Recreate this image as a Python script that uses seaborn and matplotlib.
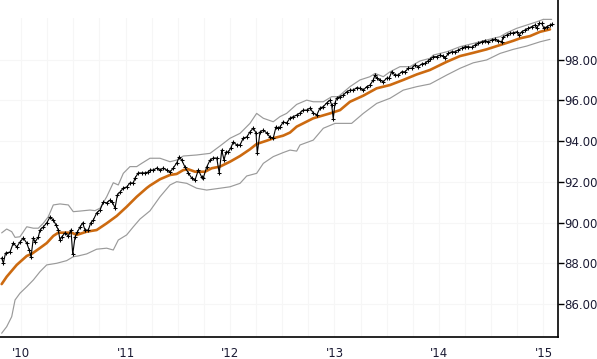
import numpy as np
import pandas as pd
import matplotlib
matplotlib.use("Agg")
import matplotlib.pyplot as plt
import seaborn as sns
from matplotlib.ticker import FixedLocator, FuncFormatter

# ---- data (decimal years, price) ----
price_t = [2009.815, 2009.831, 2009.852, 2009.895, 2009.926, 2009.959, 2009.990, 2010.022, 2010.055, 2010.079,
           2010.096, 2010.118, 2010.134, 2010.166, 2010.182, 2010.213, 2010.246, 2010.278, 2010.309, 2010.335,
           2010.357, 2010.373, 2010.389, 2010.421, 2010.453, 2010.478, 2010.495, 2010.517, 2010.539, 2010.565,
           2010.590, 2010.612, 2010.644, 2010.667, 2010.692, 2010.724, 2010.756, 2010.788, 2010.820, 2010.852,
           2010.874, 2010.900, 2010.922, 2010.947, 2010.979, 2011.011, 2011.043, 2011.075, 2011.091, 2011.122,
           2011.155, 2011.187, 2011.218, 2011.234, 2011.266, 2011.299, 2011.330, 2011.362, 2011.394, 2011.426,
           2011.457, 2011.490, 2011.515, 2011.538, 2011.569, 2011.601, 2011.633, 2011.665, 2011.697, 2011.729,
           2011.744, 2011.777, 2011.809, 2011.840, 2011.873, 2011.897, 2011.921, 2011.943, 2011.962, 2011.984,
           2012.007, 2012.032, 2012.064, 2012.096, 2012.127, 2012.160, 2012.191, 2012.223, 2012.249, 2012.261,
           2012.287, 2012.319, 2012.351, 2012.383, 2012.414, 2012.440, 2012.462, 2012.478, 2012.510, 2012.542,
           2012.574, 2012.606, 2012.638, 2012.670, 2012.701, 2012.734, 2012.766, 2012.797, 2012.830, 2012.861,
           2012.893, 2012.925, 2012.957, 2012.973, 2012.988, 2013.005, 2013.021, 2013.053, 2013.084, 2013.117,
           2013.148, 2013.180, 2013.212, 2013.244, 2013.276, 2013.308, 2013.340, 2013.371, 2013.388, 2013.404,
           2013.435, 2013.467, 2013.500, 2013.524, 2013.547, 2013.579, 2013.611, 2013.643, 2013.675, 2013.706,
           2013.739, 2013.770, 2013.802, 2013.834, 2013.866, 2013.898, 2013.914, 2013.946, 2013.978, 2014.010,
           2014.041, 2014.057, 2014.089, 2014.121, 2014.153, 2014.185, 2014.217, 2014.249, 2014.280, 2014.313,
           2014.344, 2014.376, 2014.409, 2014.440, 2014.472, 2014.504, 2014.536, 2014.567, 2014.600, 2014.615,
           2014.648, 2014.679, 2014.711, 2014.743, 2014.768, 2014.791, 2014.823, 2014.855, 2014.887, 2014.919,
           2014.935, 2014.960, 2014.983, 2015.005, 2015.031, 2015.062, 2015.084]
price_v = [88.27, 88.02, 88.51, 88.56, 89.00, 88.81, 89.05, 89.25, 89.00, 88.66,
           88.32, 89.25, 89.05, 89.30, 89.64, 89.79, 89.99, 90.28, 90.13, 89.89,
           89.64, 89.15, 89.30, 89.50, 89.35, 89.64, 88.45, 89.30, 89.54, 89.79,
           89.99, 89.64, 89.64, 89.99, 90.13, 90.48, 90.62, 91.01, 90.97, 91.11,
           91.01, 90.72, 91.36, 91.50, 91.70, 91.75, 91.95, 91.95, 92.19, 92.44,
           92.44, 92.44, 92.49, 92.58, 92.58, 92.68, 92.58, 92.68, 92.58, 92.49,
           92.68, 92.93, 93.22, 93.07, 92.73, 92.44, 92.19, 92.09, 92.58, 92.24,
           92.19, 92.73, 93.07, 93.17, 93.17, 92.44, 93.56, 93.07, 93.47, 93.47,
           93.66, 93.96, 93.81, 93.81, 94.15, 94.20, 94.45, 94.64, 94.40, 93.40,
           94.45, 94.54, 94.40, 94.20, 94.15, 94.69, 94.64, 94.69, 94.94, 94.89,
           95.13, 95.20, 95.28, 95.38, 95.52, 95.52, 95.62, 95.38, 95.28, 95.62,
           95.69, 95.87, 96.01, 95.77, 95.10, 95.87, 96.11, 96.18, 96.26, 96.42,
           96.50, 96.50, 96.62, 96.59, 96.50, 96.67, 96.75, 97.00, 97.24, 97.09,
           97.00, 96.91, 97.09, 97.09, 97.40, 97.24, 97.24, 97.40, 97.40, 97.57,
           97.57, 97.73, 97.65, 97.78, 97.81, 97.95, 98.01, 98.14, 98.14, 98.22,
           98.17, 98.06, 98.30, 98.38, 98.38, 98.47, 98.55, 98.63, 98.63, 98.60,
           98.71, 98.79, 98.87, 98.92, 98.87, 98.96, 98.99, 98.92, 98.87, 99.12,
           99.20, 99.28, 99.31, 99.36, 99.20, 99.36, 99.45, 99.53, 99.61, 99.69,
           99.53, 99.77, 99.77, 99.53, 99.61, 99.69, 99.74]

ma_t = [2009.815, 2009.863, 2009.959, 2010.055, 2010.102, 2010.182, 2010.246, 2010.309, 2010.357, 2010.485,
        2010.533, 2010.629, 2010.724, 2010.820, 2010.916, 2011.011, 2011.107, 2011.203, 2011.234, 2011.330,
        2011.426, 2011.490, 2011.553, 2011.601, 2011.665, 2011.761, 2011.825, 2011.904, 2012.000, 2012.096,
        2012.191, 2012.255, 2012.351, 2012.414, 2012.510, 2012.574, 2012.638, 2012.797, 2012.957, 2013.053,
        2013.148, 2013.276, 2013.404, 2013.531, 2013.658, 2013.787, 2013.914, 2014.074, 2014.201, 2014.328,
        2014.456, 2014.584, 2014.711, 2014.775, 2014.871, 2014.967, 2015.062]
ma_v = [86.99, 87.35, 87.93, 88.37, 88.47, 88.76, 89.00, 89.35, 89.51, 89.51,
        89.40, 89.56, 89.64, 89.97, 90.33, 90.78, 91.27, 91.70, 91.82, 92.13,
        92.34, 92.39, 92.58, 92.62, 92.50, 92.50, 92.67, 92.75, 92.99, 93.27,
        93.60, 93.86, 94.02, 94.14, 94.27, 94.42, 94.71, 95.12, 95.36, 95.52,
        95.93, 96.23, 96.59, 96.75, 97.00, 97.27, 97.49, 97.89, 98.17, 98.33,
        98.50, 98.71, 98.92, 99.04, 99.15, 99.36, 99.48]

upper_t = [2009.815, 2009.863, 2009.911, 2009.943, 2009.990, 2010.055, 2010.118, 2010.166, 2010.213, 2010.261,
           2010.309, 2010.373, 2010.453, 2010.500, 2010.565, 2010.660, 2010.708, 2010.756, 2010.820, 2010.883,
           2010.931, 2010.979, 2011.043, 2011.107, 2011.155, 2011.218, 2011.234, 2011.330, 2011.426, 2011.490,
           2011.553, 2011.681, 2011.809, 2011.904, 2012.000, 2012.096, 2012.191, 2012.255, 2012.319, 2012.414,
           2012.478, 2012.542, 2012.638, 2012.734, 2012.797, 2012.893, 2012.973, 2013.036, 2013.148, 2013.244,
           2013.340, 2013.388, 2013.467, 2013.531, 2013.627, 2013.722, 2013.818, 2013.914, 2013.946, 2014.074,
           2014.201, 2014.328, 2014.456, 2014.584, 2014.648, 2014.743, 2014.839, 2014.935, 2014.998, 2015.078]
upper_v = [89.50, 89.69, 89.56, 89.28, 89.31, 89.80, 89.73, 89.73, 89.97, 90.29,
           90.87, 90.92, 90.87, 90.54, 90.57, 90.62, 90.59, 90.71, 91.27, 91.96,
           91.85, 92.42, 92.75, 92.75, 92.91, 93.11, 93.16, 93.16, 92.99, 93.07,
           93.27, 93.32, 93.40, 93.76, 94.14, 94.38, 94.87, 95.36, 95.12, 94.95,
           95.20, 95.36, 95.80, 96.01, 95.93, 95.93, 96.18, 96.18, 96.67, 97.00,
           97.16, 97.32, 97.16, 97.40, 97.65, 97.65, 97.93, 98.06, 98.22, 98.38,
           98.63, 98.79, 98.96, 99.12, 99.31, 99.53, 99.69, 99.85, 99.97, 99.97]

lower_t = [2009.815, 2009.863, 2009.911, 2009.943, 2009.990, 2010.055, 2010.118, 2010.182, 2010.246, 2010.342,
           2010.437, 2010.500, 2010.548, 2010.629, 2010.724, 2010.820, 2010.883, 2010.931, 2011.011, 2011.075,
           2011.139, 2011.234, 2011.330, 2011.426, 2011.490, 2011.586, 2011.681, 2011.777, 2011.904, 2012.000,
           2012.096, 2012.160, 2012.255, 2012.319, 2012.414, 2012.510, 2012.574, 2012.638, 2012.670, 2012.797,
           2012.893, 2013.005, 2013.164, 2013.276, 2013.404, 2013.531, 2013.658, 2013.787, 2013.914, 2014.074,
           2014.201, 2014.328, 2014.456, 2014.584, 2014.711, 2014.839, 2014.967, 2015.062]
lower_v = [84.58, 84.90, 85.39, 86.21, 86.54, 86.86, 87.19, 87.60, 87.93, 88.01,
           88.14, 88.33, 88.37, 88.47, 88.70, 88.75, 88.66, 89.15, 89.40, 89.80,
           90.18, 90.58, 91.27, 91.85, 92.01, 91.93, 91.69, 91.60, 91.69, 91.76,
           91.93, 92.29, 92.42, 92.91, 93.24, 93.44, 93.56, 93.51, 93.81, 94.05,
           94.63, 94.87, 94.87, 95.36, 95.85, 96.10, 96.50, 96.67, 96.80, 97.24,
           97.57, 97.84, 97.98, 98.30, 98.50, 98.66, 98.87, 98.99]

year_ticks = [2010, 2011, 2012, 2013, 2014, 2015]
year_labels = ["'10", "'11", "'12", "'13", "'14", "'15"]
y_ticks = [86, 88, 90, 92, 94, 96, 98]

sns.set_style("white")
plt.rcParams['font.family'] = ['DejaVu Sans']

fig = plt.figure(figsize=(5.97, 3.59), dpi=100)
ax = fig.add_axes([0.0, 21.7 / 359, 557.7 / 597, 337.3 / 359])

df_p = pd.DataFrame({"t": price_t, "v": price_v})
df_m = pd.DataFrame({"t": ma_t, "v": ma_v})
df_u = pd.DataFrame({"t": upper_t, "v": upper_v})
df_l = pd.DataFrame({"t": lower_t, "v": lower_v})

sns.lineplot(data=df_u, x="t", y="v", ax=ax, color="#9a9a9a", lw=0.85, zorder=2)
sns.lineplot(data=df_l, x="t", y="v", ax=ax, color="#9a9a9a", lw=0.85, zorder=2)
sns.lineplot(data=df_m, x="t", y="v", ax=ax, color="#cc6a10", lw=1.9, zorder=3)
sns.lineplot(data=df_p, x="t", y="v", ax=ax, color="black", lw=0.8, zorder=4,
             marker="+", markersize=3.2, markeredgewidth=0.75, markeredgecolor="black")

ymin = 84.38
ymax = 100.92
ax.set_xlim(2009.799, 2015.136)
ax.set_ylim(ymin, ymax)

for s in ["top", "left"]:
    ax.spines[s].set_visible(False)
for s in ["right", "bottom"]:
    ax.spines[s].set_color("black")
    ax.spines[s].set_linewidth(1.2)

ax.yaxis.tick_right()
ax.set_yticks(y_ticks)
ax.yaxis.set_major_formatter(FuncFormatter(lambda v, p: f"{v:.2f}"))
ax.set_xticks(year_ticks)
ax.set_xticklabels(year_labels)
quarters = [y + q for y in range(2009, 2016) for q in (0.25, 0.5, 0.75)]
ax.xaxis.set_minor_locator(FixedLocator(quarters))

ax.tick_params(axis="y", which="major", direction="out", length=4, width=1, colors="black",
               labelsize=8.5, pad=1, right=True, left=False, labelcolor="#1a1a33")
ax.tick_params(axis="x", which="major", direction="out", length=5, width=1, colors="black",
               labelsize=8.5, pad=2, labelcolor="#1a1a33")
ax.tick_params(axis="x", which="minor", direction="out", length=4, width=1, colors="black")

ax.set_xlabel("")
ax.set_ylabel("")
# very faint grid, vertical lines stop at the 100 level
grid_top = (100.02 - ymin) / (ymax - ymin)
for gx in sorted(year_ticks + quarters):
    if 2009.799 < gx < 2015.136:
        ax.axvline(gx, ymin=0, ymax=grid_top, color="#f6f6f6", lw=0.8, zorder=0)
ax.grid(True, which="major", axis="y", color="#f6f6f6", lw=0.8)
ax.set_axisbelow(True)

fig.savefig("out.png", dpi=100)
